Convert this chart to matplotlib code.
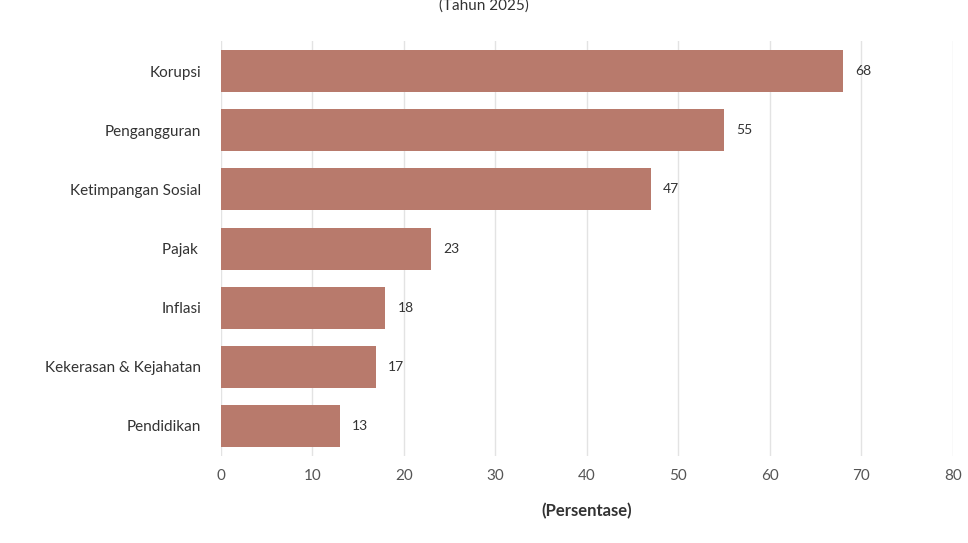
import matplotlib.pyplot as plt

categories = ["Korupsi", "Pengangguran", "Ketimpangan Sosial", "Pajak ",
              "Inflasi", "Kekerasan & Kejahatan", "Pendidikan"]
values = [68, 55, 47, 23, 18, 17, 13]

plt.rcParams['font.family'] = ['Lato', 'DejaVu Sans']

fig = plt.figure(figsize=(9.68, 5.43), dpi=100)
ax = fig.add_axes([0.228, 0.161, 0.7565, 0.7626])

ypos = list(range(len(categories)))[::-1]
ax.barh(ypos, values, height=0.71, color='#b87a6c', zorder=3)
for y, v in zip(ypos, values):
    ax.text(v + 1.3, y, str(v), va='center', ha='left', fontsize=10, color='#333333')

ax.set_yticks(ypos)
ax.set_yticklabels(categories, fontsize=11, color='#333333')
ax.set_ylim(-0.5, 6.5)
ax.set_xlim(0, 80)
ax.set_xticks(range(0, 81, 10))
ax.tick_params(axis='x', labelsize=11, colors='#555555', length=0, pad=10)
ax.tick_params(axis='y', length=0, pad=14)
ax.grid(axis='x', color='#e3e3e3', linewidth=1, zorder=0)
for s in ax.spines.values():
    s.set_visible(False)

ax.set_xlabel("(Persentase)", fontsize=12, fontweight='bold', color='#333333', labelpad=14)
fig.text(0.5, 0.99, "(Tahun 2025)", ha='center', va='center', fontsize=11, color='#333333')

fig.savefig("out.png", dpi=100)
